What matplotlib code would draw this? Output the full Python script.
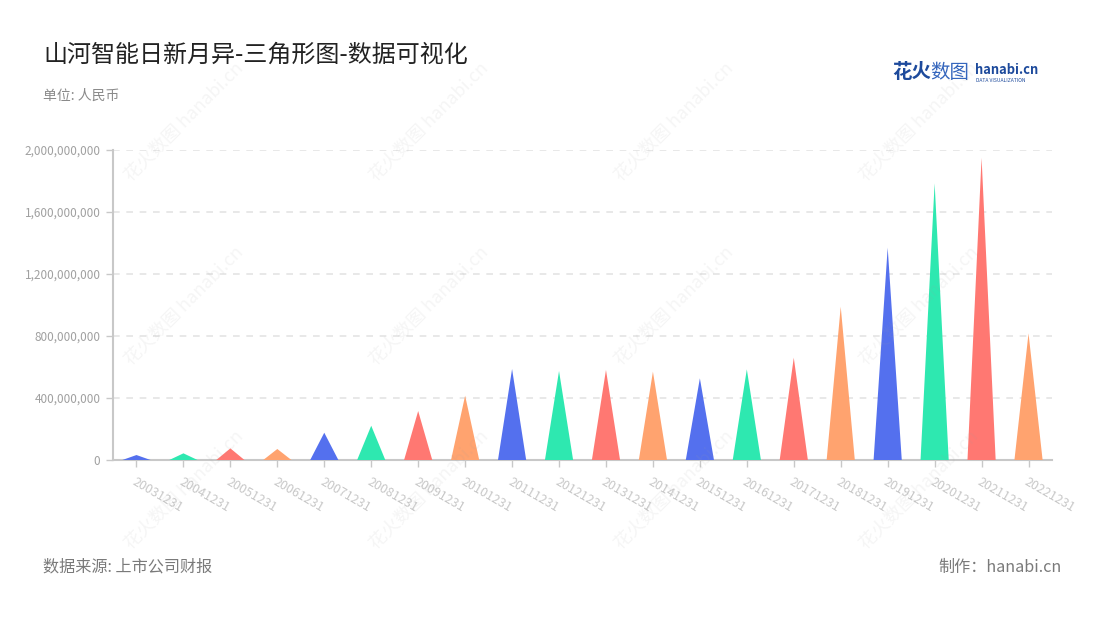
import matplotlib
matplotlib.use('Agg')

import matplotlib.pyplot as plt
from matplotlib.ticker import FuncFormatter

# data
dates = ['20031231', '20041231', '20051231', '20061231', '20071231',
         '20081231', '20091231', '20101231', '20111231', '20121231',
         '20131231', '20141231', '20151231', '20161231', '20171231',
         '20181231', '20191231', '20201231', '20211231', '20221231']
values = [32e6, 43e6, 75e6, 71e6, 176e6,
          221e6, 316e6, 415e6, 587e6, 574e6,
          581e6, 570e6, 527e6, 585e6, 660e6,
          989e6, 1370e6, 1785e6, 1950e6, 817e6]
palette = ['#5470ee', '#2ee8b0', '#ff7872', '#ffa36f']

plt.rcParams['font.family'] = ['Noto Sans CJK SC', 'DejaVu Sans']

fig = plt.figure(figsize=(11, 6.2), dpi=100)
ax = fig.add_axes([113/1100, 160/620, 939/1100, 310/620])

# triangles, one per year
w = 0.6
for i, v in enumerate(values):
  ax.fill([i - w/2, i, i + w/2], [0, v, 0], color=palette[i % 4], lw=0, zorder=3)

ax.set_xlim(-0.5, len(values) - 0.5)
ax.set_ylim(0, 2e9)
ax.set_yticks([0, 4e8, 8e8, 1.2e9, 1.6e9, 2e9])
ax.yaxis.set_major_formatter(FuncFormatter(lambda v, p: '{:,.0f}'.format(v)))
ax.set_xticks(range(len(dates)))
ax.set_xticklabels(dates, rotation=-30, ha='left', va='top',
                   rotation_mode='anchor', color='#b4b8c8', fontsize=9)

ax.yaxis.grid(True, linestyle=(0, (4, 4)), color='#e4e4e4', lw=1.2, zorder=0)
ax.set_axisbelow(True)
for s in ['top', 'right']:
  ax.spines[s].set_visible(False)
for s in ['left', 'bottom']:
  ax.spines[s].set_color('#c8c8c8')
  ax.spines[s].set_linewidth(1.5)
ax.tick_params(axis='y', colors='#c8c8c8', labelcolor='#a0a0a0', labelsize=8.5, length=5, width=1, pad=4)
ax.tick_params(axis='x', colors='#c8c8c8', length=5, width=1, pad=6)

# titles and footer
fig.text(43/1100, 1 - 55/620, '山河智能日新月异-三角形图-数据可视化', fontsize=17.3,
         color='#222222', va='center', ha='left')
fig.text(43/1100, 1 - 96/620, '单位: 人民币', fontsize=10, color='#8a8a8a',
         va='center', ha='left')
fig.text(43/1100, 1 - 567/620, '数据来源: 上市公司财报', fontsize=11.6, color='#7a7a7a',
         va='center', ha='left')
fig.text(1062/1100, 1 - 567/620, '制作：hanabi.cn', fontsize=11.6, color='#7a7a7a',
         va='center', ha='right')

# logo
fig.text(892/1100, 1 - 73/620, '花火', fontsize=14, fontweight='bold', color='#1d4a9c',
         va='center', ha='left')
fig.text(930/1100, 1 - 73/620, '数图', fontsize=14, color='#3566bd',
         va='center', ha='left')
fig.text(975/1100, 1 - 70/620, 'hanabi.cn', fontsize=9.3, fontweight='bold',
         color='#1d4a9c', va='center', ha='left')
fig.text(976/1100, 1 - 80.5/620, 'DATA VISUALIZATION', fontsize=3.6, color='#1d4a9c',
         va='center', ha='left')

# faint watermarks
for cy in [122, 306, 490]:
  for cx in [184, 429, 674, 919]:
    fig.text(cx/1100, 1 - cy/620, '花火数图 hanabi.cn', fontsize=13, rotation=45,
             color='#a0a0a0', alpha=0.1, ha='center', va='center', zorder=10)

fig.savefig('out.png', dpi=100)
